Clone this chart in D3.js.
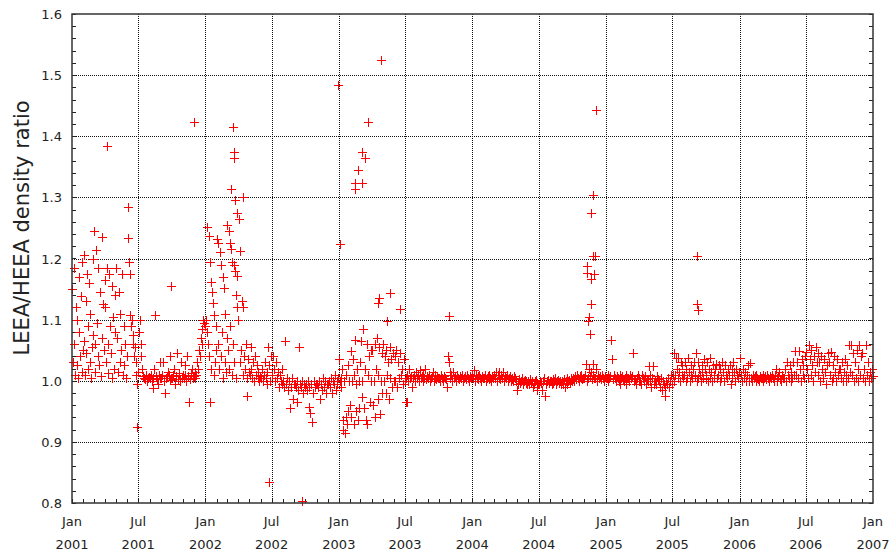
<!DOCTYPE html>
<html>
<head>
<meta charset="utf-8">
<script src="https://cdn.jsdelivr.net/npm/d3@7"></script>
<style>
  body { margin: 0; background: #fff; }
  text { font-family: "DejaVu Sans", Verdana, sans-serif; fill: #222; }
</style>
</head>
<body>
<svg id="chart" width="895" height="553"></svg>
<script>
// density ratio readings, stored as thousandths above 1.000 (ratio = 1 + n/1000)
// one list per month, in date order; points are spread over the month
var y2001 = [
  [150, 30, 185, 60, 10, 120, 25, 100, 5, 170, 80, 40, 138, 15, 195, 50],
  [205, 65, 10, 130, 45, 175, 20, 90, 160, 30, 110, 5, 55, 200, 75],
  [245, 60, 15, 214, 95, 40, 185, 25, 145, 8, 235, 70, 126, 50, 165],
  [120, 30, 185, 60, 12, 175, 90, 45, 155, 5, 105, 20, 140, 80],
  [185, 70, 15, 145, 30, 110, 50, 175, 10, 90, 25, 60, 5, 40],
  [284, 234, 195, 175, 107, 90, 100, 75, 60, 40, 55, 10, 30, -5, 15],
  [80, 100, 60, 40, 20, 8, 5, 3, 10, 0, 5, 6],
  [5, 10, 0, -12, 5, 20, 107, 8, 3, -5, 10, 5, 30],
  [5, 10, 30, 0, -20, 5, 8, 15, 10, 40, 2, 5],
  [5, 10, 20, -5, 8, 45, 3, 12, 0, 30, 5, 10],
  [5, 10, 25, 0, 40, 8, -34, 3, 12, 20, 5, 8],
  [5, 15, 10, 30, 20, 50, 40, 70, 60, 85, 100, 95, 90]
]
var y2002 = [
  [100, 80, 252, 60, 236, 40, 195, 162, 20, 146, 127, 10, 108, 30, 90, 50],
  [232, 60, 225, 20, 210, 40, 190, 80, 170, 5, 152, 30, 110, 15, 70],
  [255, 50, 245, 20, 225, 90, 216, 10, 195, 60, 190, 30, 180, 140, 5, 171, 120, 100],
  [265, 30, 212, 50, 130, 10, 120, 40, 20, 60, 5, -25, 35, 15],
  [10, 56, 20, 5, 30, 0, 40, 10, 25, 5, 15, 0, 8],
  [5, 20, 0, 10, 30, 5, -5, 15, 56, 25, 0, 40],
  [10, 40, 20, 0, 30, 5, 15, -10, 10, 0, 20, -5],
  [0, -10, 65, -5, 5, -15, 0, -44, -10, 5, -30, -5],
  [-5, -10, 0, -34, -15, 56, -5, -10, 0, -20, -5, -10],
  [-5, -15, 0, -43, -10, -53, -5, -67, -20, 0, -10, -5],
  [-5, -10, 0, -30, -5, -15, 5, -10, 0, -20, -5],
  [-5, 0, -10, 5, -20, 0, -5, 10, -15, 0, -5, 5]
]
var y2003 = [
  [36, 0, 5, -10, 20, -64, -80, 0, -85, -60, 10, -70, -50, 25, 0, -40],
  [48, -60, 0, 36, -70, 10, 67, -50, -5, 20, -65, 0, -45, 30],
  [65, -27, 0, 85, -45, 20, -65, 60, -70, 10, 40, -35, 0, 50],
  [50, -40, 0, 60, -60, 20, 70, -30, 10, 55, -55, 0, 45, -20],
  [60, 0, 40, -20, 50, 10, 30, -30, 55, 5, 35, -10, 45, 0],
  [40, 0, 50, -10, 30, 5, 45, 10, 20, -5, 35, 0],
  [5, -34, 10, 0, 20, 5, 8, -10, 5, 10, 0, 15],
  [5, 10, 0, 17, 5, 8, 0, 10, 5, 20, 3, 8],
  [5, 10, 0, 5, 8, 15, 0, 5, 10, 3, 8, 5],
  [5, 0, 10, 5, 0, 8, 5, 3, -10, 40, 30, 15],
  [5, 10, 0, 15, 5, 8, 0, 10, 5, 3, 8, 5],
  [5, 10, 0, 5, 8, 3, 10, 5, 0, 8, 5, 10]
]
var y2004 = [
  [5, 17, 0, 10, 5, 8, 3, 10, 5, 0, 8, 5],
  [5, 10, 0, 5, 8, 3, 10, 5, 0, 8, 5, 10],
  [5, 15, 0, 10, 5, 15, 3, 10, 5, 15, 0, 8],
  [5, 10, 0, 5, 8, 0, 3, 5, 0, 8, 5, 0],
  [-15, -5, 3, -3, 0, 5, -5, 0, 2, -3, 0, -5],
  [0, -5, 3, -3, 0, -10, -5, 0, 2, -3, -15, -5],
  [-5, 0, -3, -15, 0, 5, -25, -5, 0, 2, -3, 0],
  [0, -5, 3, -3, 0, 5, -5, 0, 2, -3, 0, -5],
  [0, -5, 3, -10, 0, 5, -5, 0, 2, -3, 5, 0],
  [5, 0, 8, 3, 10, 5, 0, 8, 5, 10, 3, 5],
  [5, 10, 28, 0, 5, 20, 8, 15, 3, 28, 10, 5],
  [5, 20, 0, 10, 5, 8, 3, 10, 5, 0, 8, 5]
]
var y2005 = [
  [5, 0, 10, 5, 8, 66, 36, 3, 10, 5, 0, 8],
  [5, 0, 10, -5, 5, 8, 3, 0, 5, 10, -5, 5],
  [5, 0, 10, 5, 8, 46, 0, 3, -5, 5, 10, 0],
  [5, 0, -5, 10, 5, 0, 8, -5, 3, 0, 24, 10],
  [0, -10, 5, 24, -5, 0, -5, 8, 3, 0, -10, 5],
  [-15, 0, -5, -25, -10, 0, -5, 5, -10, 0, 10, -5],
  [10, 0, 46, 10, 37, 20, 5, 37, 15, 0, 30, 10, 25, 5],
  [10, 30, 0, 20, 5, 37, 15, 0, 25, 10, 5, 20, 30, 8],
  [10, 46, 0, 30, 5, 20, 10, 0, 25, 15, 5, 35, 20, 3],
  [10, 30, 0, 20, 5, 37, 15, 0, 25, 10, 5, 20, 28, 5],
  [10, 25, 0, 20, 5, 30, 15, 0, 25, 10, 5, 20],
  [10, 25, -5, 20, 5, 30, 15, 0, 20, 10, 5, 15]
]
var y2006 = [
  [38, 10, 0, 20, 5, 15, 0, 10, 25, 5, 0, 29],
  [5, 0, 10, 5, 8, 0, 10, 5, 3, 0, 8, 5],
  [5, 10, 0, 5, 8, 3, 10, 5, 0, 8, 5, 10],
  [5, 0, 10, 20, 5, 0, 8, 15, 3, 0, 10, 5],
  [5, 20, 0, 30, 10, 5, 25, 0, 15, 5, 30, 10],
  [48, 10, 30, 5, 48, 20, 0, 35, 10, 25, 5, 40],
  [47, 20, 5, 59, 35, 10, 50, 25, 0, 40, 15, 55, 30],
  [45, 10, 30, 0, 40, 20, 5, 35, 15, -5, 25, 45],
  [30, 10, 47, 0, 25, 5, 40, 15, 0, 35, 10, 20],
  [20, 5, 30, 0, 15, 35, 10, 0, 25, 5, 59, 15],
  [59, 10, 45, 0, 30, 5, 50, 20, 0, 59, 10, 40],
  [45, 5, 20, 0, 59, 10, 30, 0, 15, 5, 20, 8]
]
var years = [2001, 2002, 2003, 2004, 2005, 2006]
var yearData = [y2001, y2002, y2003, y2004, y2005, y2006]

// isolated readings with their own dates
var outliers = [
  ["2001-04-07", 1.384], ["2001-06-27", 0.925], ["2001-09-29", 1.155], ["2001-12-01", 1.423],
  ["2002-01-13", 0.965], ["2002-03-13", 1.314], ["2002-03-17", 1.415], ["2002-03-19", 1.374],
  ["2002-03-21", 1.365], ["2002-03-23", 1.296], ["2002-03-28", 1.275], ["2002-04-14", 1.300],
  ["2002-06-25", 0.835], ["2002-09-22", 0.804], ["2002-12-30", 1.484], ["2003-01-04", 1.224],
  ["2003-02-14", 1.313], ["2003-02-15", 1.324], ["2003-02-21", 1.344], ["2003-03-05", 1.375],
  ["2003-03-05", 1.324], ["2003-03-14", 1.364], ["2003-03-23", 1.424], ["2003-04-18", 1.127],
  ["2003-04-21", 1.135], ["2003-04-25", 1.524], ["2003-05-12", 1.097], ["2003-05-21", 1.143],
  ["2003-06-17", 1.117], ["2003-07-05", 0.966], ["2003-10-29", 1.106],
  ["2004-11-11", 1.176], ["2004-11-11", 1.187], ["2004-11-13", 1.097], ["2004-11-14", 1.105],
  ["2004-11-17", 1.076], ["2004-11-20", 1.126], ["2004-11-22", 1.274], ["2004-11-22", 1.167],
  ["2004-11-25", 1.204], ["2004-11-27", 1.304], ["2004-11-28", 1.175], ["2004-12-01", 1.204],
  ["2004-12-05", 1.443], ["2005-09-07", 1.204], ["2005-09-07", 1.126], ["2005-09-08", 1.116]
]

var xTicks = ["2001-01-01", "2001-07-01", "2002-01-01", "2002-07-01", "2003-01-01", "2003-07-01",
  "2004-01-01", "2004-07-01", "2005-01-01", "2005-07-01", "2006-01-01", "2006-07-01", "2007-01-01"]
var yTicks = [0.8, 0.9, 1.0, 1.1, 1.2, 1.3, 1.4, 1.5, 1.6]

var parse = d3.utcParse("%Y-%m-%d")
var fmtMon = d3.utcFormat("%b")
var fmtYear = d3.utcFormat("%Y")

var plotL = 72, plotR = 873, plotT = 14, plotB = 503

var x = d3.scaleUtc().domain([parse("2001-01-01"), parse("2007-01-01")]).range([plotL, plotR])
var y = d3.scaleLinear().domain([0.8, 1.6]).range([plotB, plotT])

var points = []
yearData.forEach(function(months, yi) {
  months.forEach(function(vals, m) {
    var start = Date.UTC(years[yi], m, 1)
    var end = Date.UTC(years[yi], m + 1, 1)
    vals.forEach(function(v, i) {
      points.push({ date: new Date(start + (i + 0.5) / vals.length * (end - start)), value: 1 + v / 1000 })
    })
  })
})
outliers.forEach(function(o) {
  points.push({ date: parse(o[0]), value: o[1] })
})

var svg = d3.select("#chart")
svg.append("rect").attr("width", 895).attr("height", 553).attr("fill", "#fff")

// grid
var grid = svg.append("g").attr("shape-rendering", "crispEdges")
grid.selectAll(".gx").data(xTicks.slice(1, -1)).enter().append("line")
  .attr("x1", function(d) { return Math.round(x(parse(d))) + 0.5 })
  .attr("x2", function(d) { return Math.round(x(parse(d))) + 0.5 })
  .attr("y1", plotT).attr("y2", plotB)
  .attr("stroke", "#111").attr("stroke-dasharray", "1,1")
grid.selectAll(".gy").data(yTicks.slice(1, -1)).enter().append("line")
  .attr("y1", function(d) { return Math.round(y(d)) + 0.5 })
  .attr("y2", function(d) { return Math.round(y(d)) + 0.5 })
  .attr("x1", plotL).attr("x2", plotR)
  .attr("stroke", "#111").attr("stroke-dasharray", "1,1")

// minor ticks
var ticks = svg.append("g").attr("shape-rendering", "crispEdges").attr("stroke", "#222")
var months = d3.utcMonth.range(parse("2001-01-01"), parse("2007-01-01"))
ticks.selectAll(".mx").data(months).enter().append("line")
  .attr("x1", function(d) { return Math.round(x(d)) + 0.5 })
  .attr("x2", function(d) { return Math.round(x(d)) + 0.5 })
  .attr("y1", plotB).attr("y2", plotB - 4)
var minorY = d3.range(0, 41).map(function(i) { return 0.8 + i * 0.02 })
ticks.selectAll(".ml").data(minorY).enter().append("line")
  .attr("y1", function(d) { return Math.round(y(d)) + 0.5 })
  .attr("y2", function(d) { return Math.round(y(d)) + 0.5 })
  .attr("x1", plotL).attr("x2", plotL + 4)
ticks.selectAll(".mr").data(minorY).enter().append("line")
  .attr("y1", function(d) { return Math.round(y(d)) + 0.5 })
  .attr("y2", function(d) { return Math.round(y(d)) + 0.5 })
  .attr("x1", plotR).attr("x2", plotR - 4)

// markers
svg.append("g").attr("shape-rendering", "crispEdges")
  .selectAll("path").data(points).enter().append("path")
  .attr("d", function(d) {
    var px = Math.round(x(d.date)) + 0.5, py = Math.round(y(d.value)) + 0.5
    return "M" + (px - 4.5) + "," + py + "h9M" + px + "," + (py - 4.5) + "v9"
  })
  .attr("stroke", "#ff0000").attr("stroke-width", 1).attr("fill", "none")

// frame
svg.append("rect").attr("x", plotL).attr("y", plotT).attr("width", plotR - plotL).attr("height", plotB - plotT)
  .attr("fill", "none").attr("stroke", "#333").attr("stroke-width", 1.5)

// axis labels
svg.selectAll(".yl").data(yTicks).enter().append("text")
  .attr("x", plotL - 10).attr("y", function(d) { return y(d) + 5 })
  .attr("text-anchor", "end").attr("font-size", 13)
  .text(function(d) { return d.toFixed(1) })

var xl = svg.selectAll(".xl").data(xTicks).enter().append("text")
  .attr("text-anchor", "middle").attr("font-size", 13)
xl.append("tspan").attr("x", function(d) { return x(parse(d)) }).attr("y", 526)
  .text(function(d) { return fmtMon(parse(d)) })
xl.append("tspan").attr("x", function(d) { return x(parse(d)) }).attr("y", 549)
  .text(function(d) { return fmtYear(parse(d)) })

svg.append("text").attr("transform", "translate(29,228) rotate(-90)")
  .attr("text-anchor", "middle").attr("font-size", 21)
  .text("LEEA/HEEA density ratio")
</script>
</body>
</html>
